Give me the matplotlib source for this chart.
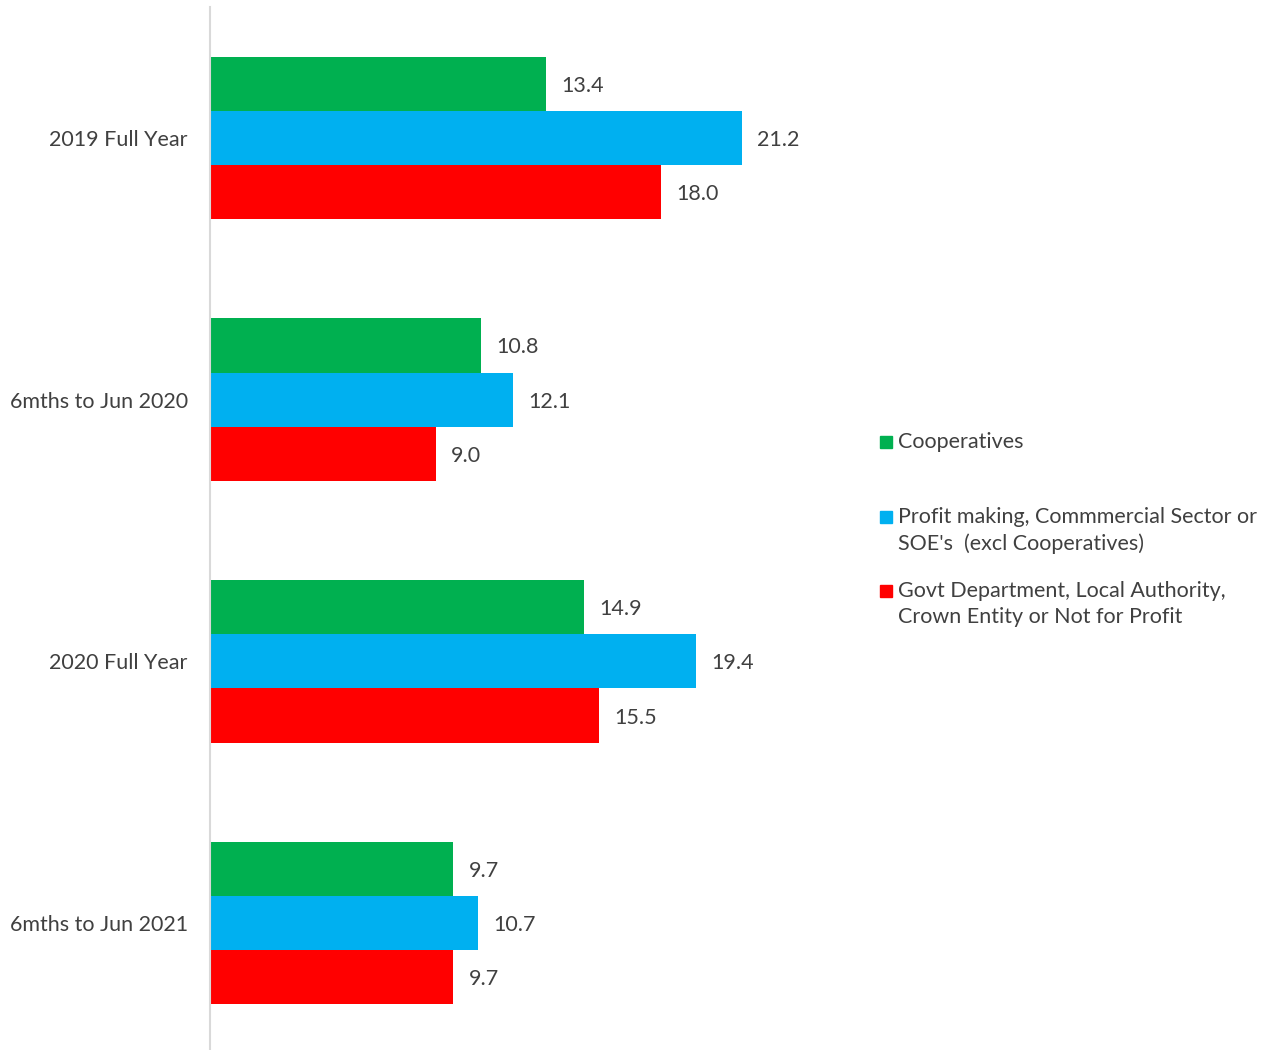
import numpy as np
import matplotlib
matplotlib.use("Agg")
import matplotlib.pyplot as plt
from matplotlib.patches import Rectangle

# data
periods = ["2019 Full Year", "6mths to Jun 2020", "2020 Full Year", "6mths to Jun 2021"]
coop = [13.4, 10.8, 14.9, 9.7]
profit = [21.2, 12.1, 19.4, 10.7]
govt = [18.0, 9.0, 15.5, 9.7]
series_names = ["Cooperatives",
                "Profit making, Commmercial Sector or\nSOE's  (excl Cooperatives)",
                "Govt Department, Local Authority,\nCrown Entity or Not for Profit"]
colors = ["#00B050", "#00B0F0", "#FF0000"]

plt.rcParams['font.family'] = ['Lato', 'DejaVu Sans']
txt_col = "#404040"
fs = 15.5

W, H = 1284, 1050
fig = plt.figure(figsize=(W / 100, H / 100), dpi=100)
# axes box in pixels: left 210, top 7, bottom 1054
ax = fig.add_axes([210 / W, -4 / H, 652 / W, 1047 / H])

y = np.arange(len(periods))
h = 0.207
for i, (vals, c) in enumerate(zip([coop, profit, govt], colors)):
    bars = ax.barh(y + (i - 1) * h, vals, height=h, color=c)
    labs = ax.bar_label(bars, labels=[f"{v:.1f}" for v in vals], padding=11,
                        fontsize=fs, color=txt_col)
    for t in labs:
        t.set_va("center_baseline")

ax.set_xlim(0, 26)
ax.set_ylim(len(periods) - 0.5, -0.5)
ax.set_yticks(y)
ax.set_yticklabels(periods, fontsize=fs, color=txt_col)
ax.tick_params(axis='y', length=0, pad=16)
ax.set_xticks([])
for s in ["top", "right", "bottom"]:
    ax.spines[s].set_visible(False)
ax.spines["left"].set_color("#D9D9D9")
ax.spines["left"].set_linewidth(1.5)

# legend drawn by hand to match spacing
leg_y = [441, 516, 590]
for name, c, ly in zip(series_names, colors, leg_y):
    fig.patches.append(Rectangle((880 / W, 1 - (ly + 7) / H), 12 / W, 12 / H,
                                 transform=fig.transFigure, color=c))
    fig.text(898 / W, 1 - (ly - 9) / H, name, fontsize=fs, color=txt_col,
             va="top", ha="left", linespacing=1.4)

fig.savefig("out.png", dpi=100)
